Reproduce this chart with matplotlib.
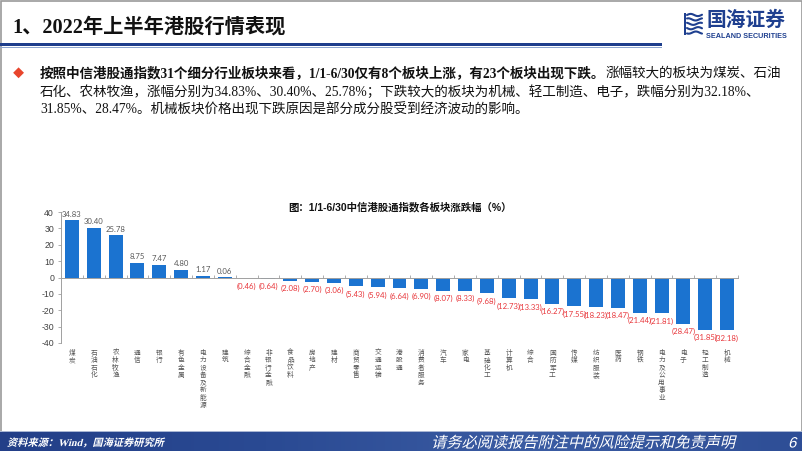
import matplotlib
matplotlib.use("Agg")
import matplotlib.pyplot as plt
import numpy as np
from matplotlib.textpath import TextPath
from matplotlib.patches import PathPatch, Rectangle
from matplotlib.font_manager import FontProperties
from matplotlib.transforms import Affine2D

# ---------------- data ----------------
categories = ["煤炭", "石油石化", "农林牧渔", "通信", "银行", "有色金属", "电力设备及新能源",
              "建筑", "综合金融", "非银行金融", "食品饮料", "房地产", "建材", "商贸零售",
              "交通运输", "港股通", "消费者服务", "汽车", "家电", "基础化工", "计算机",
              "综合", "国防军工", "传媒", "纺织服装", "医药", "钢铁", "电力及公用事业",
              "电子", "轻工制造", "机械"]
values = [34.83, 30.40, 25.78, 8.75, 7.47, 4.80, 1.17, 0.06, -0.46, -0.64, -2.08,
          -2.70, -3.06, -5.43, -5.94, -6.64, -6.90, -8.07, -8.33, -9.68, -12.73,
          -13.33, -16.27, -17.55, -18.23, -18.47, -21.44, -21.81, -28.47, -31.85, -32.18]
y_ticks = [40, 30, 20, 10, 0, -10, -20, -30, -40]

header_title = "1、2022年上半年港股行情表现"
chart_title = "图：1/1-6/30中信港股通指数各板块涨跌幅（%）"
para_bold = "按照中信港股通指数31个细分行业板块来看，1/1-6/30仅有8个板块上涨，有23个板块出现下跌。"
para_line1_rest = "涨幅较大的板块为煤炭、石油"
para_line2 = "石化、农林牧渔，涨幅分别为34.83%、30.40%、25.78%；下跌较大的板块为机械、轻工制造、电子，跌幅分别为32.18%、"
para_line3 = "31.85%、28.47%。机械板块价格出现下跌原因是部分成分股受到经济波动的影响。"
source_text = "资料来源：Wind，国海证券研究所"
disclaimer = "请务必阅读报告附注中的风险提示和免责声明"
page_no = "6"

W, H = 802, 451
SERIF = ["Liberation Serif", "Noto Sans CJK SC"]
SANS = ["Liberation Sans", "Noto Sans CJK SC"]
CJK = ["Noto Sans CJK SC", "DejaVu Sans"]

fig = plt.figure(figsize=(W / 100, H / 100), dpi=100)
fig.patch.set_facecolor("white")

bg = fig.add_axes([0, 0, 1, 1])
bg.set_xlim(0, W)
bg.set_ylim(0, H)
bg.axis("off")

def py(y):
    return H - y

# frame
bg.add_patch(Rectangle((0.5, 0.5), W - 1, H - 1, fill=False, ec="#9a9a9a", lw=1.2))
# header rule
bg.add_patch(Rectangle((0, py(46)), 662, 3, color="#1E3E8C", lw=0))
bg.add_patch(Rectangle((0, py(48)), 662, 1, color="#8FA6CF", lw=0))

# header title
bg.text(12, py(28), header_title, fontsize=14.6, fontweight="bold", family=SERIF,
        va="center", ha="left", color="#111111")

# logo
logo_c = "#1E3F8F"
for k in range(5):
    xs = np.linspace(687, 702, 20)
    bg.plot(xs, py(15 + k * 4.4) + 1.1 * np.sin((xs - 687) / 2.3 + k), color=logo_c, lw=1.5,
            solid_capstyle="round")
bg.add_patch(Rectangle((684, py(35)), 2.2, 22, color=logo_c, lw=0))
bg.text(706, py(20), "国海证券", fontsize=14.2, fontweight="bold", family=CJK,
        va="center", ha="left", color=logo_c)
bg.text(706, py(36), "SEALAND SECURITIES", fontsize=5.2, fontweight="bold",
        family=["Liberation Sans"], va="center", ha="left", color=logo_c)

# paragraph
FS = 9.75
bg.text(18, py(73), "◆", fontsize=8, family=CJK, color="#E8452C", va="center", ha="center")
renderer = fig.canvas.get_renderer()
t1 = bg.text(40, py(73), para_bold, fontsize=FS, fontweight="bold", family=SERIF,
             va="center", ha="left", color="#111111")
ext = t1.get_window_extent(renderer=renderer)
bg.text(ext.x1, py(73), para_line1_rest, fontsize=FS, family=SERIF,
        va="center", ha="left", color="#111111")
bg.text(40, py(92), para_line2, fontsize=FS, family=SERIF, va="center", ha="left", color="#111111")
bg.text(40, py(110), para_line3, fontsize=FS, family=SERIF, va="center", ha="left", color="#111111")

# chart title
bg.text(400, py(207), chart_title, fontsize=7.5, fontweight="bold", family=SANS,
        va="center", ha="center", color="#111111")

# footer bar with gradient
grad = np.linspace(0, 1, 256)
cmap = matplotlib.colors.LinearSegmentedColormap.from_list(
    "ft", ["#233F88", "#2A4A93", "#3B5CA3", "#2E4E96"])
bg.imshow(grad[None, :], extent=(0, W, 0, py(432)), aspect="auto", cmap=cmap, zorder=1)
bg.add_patch(Rectangle((0, py(432)), W, 1.2, color="#A9B6D3", lw=0, zorder=2))
bg.set_xlim(0, W)
bg.set_ylim(0, H)

def skew_text(s, x, y, size, family, weight="bold", color="white"):
    fp = FontProperties(family=family, weight=weight)
    tp = TextPath((0, 0), s, size=size, prop=fp)
    tr = Affine2D().skew_deg(14, 0).translate(x, y) + bg.transData
    bg.add_patch(PathPatch(tp, transform=tr, color=color, lw=0, zorder=3))

skew_text(source_text, 7, py(446), 10.2, ["Liberation Serif", "Noto Sans CJK SC"])
skew_text(disclaimer, 431, py(447.5), 15.2, ["Noto Sans CJK SC"], weight="medium")
skew_text(page_no, 788, py(447.5), 15, ["Liberation Sans"], weight="normal")

# ---------------- chart ----------------
ax = fig.add_axes([61 / W, 1 - 343 / H, (738 - 61) / W, (343 - 212) / H])
ax.patch.set_alpha(0)
x = np.arange(len(categories))
ax.bar(x, values, width=0.64, color="#1B73D0", zorder=2)
ax.set_xlim(-0.5, len(categories) - 0.5)
ax.set_ylim(-40, 40)
ax.set_yticks(y_ticks)
ax.set_yticklabels([str(v) for v in y_ticks], fontsize=6.3, color="#404040",
                   family=["Liberation Sans"])
ax.tick_params(axis="y", length=2, width=0.6, color="#A0A0A0", pad=3)
for s in ["top", "right"]:
    ax.spines[s].set_visible(False)
ax.spines["left"].set_color("#A0A0A0")
ax.spines["left"].set_linewidth(0.7)
ax.spines["bottom"].set_position(("data", 0))
ax.spines["bottom"].set_color("#A0A0A0")
ax.spines["bottom"].set_linewidth(0.7)
ax.set_xticks(np.arange(-0.5, len(categories), 1.0))
ax.set_xticklabels([])
ax.tick_params(axis="x", direction="in", length=2, width=0.6, color="#A0A0A0")

for i, v in enumerate(values):
    if v >= 0:
        ax.annotate(f"{v:.2f}", xy=(i, v), xytext=(0, 2), textcoords="offset points",
                    ha="center", va="bottom", fontsize=5.6, color="#595959",
                    family=["Lato"], annotation_clip=False)
    else:
        ax.annotate(f"({abs(v):.2f})", xy=(i, v), xytext=(0, -3), textcoords="offset points",
                    ha="center", va="top", fontsize=5.6, color="#E8363B",
                    family=["Lato"], annotation_clip=False)

for i, name in enumerate(categories):
    ax.annotate("\n".join(name), xy=(i, 0), xycoords=("data", "axes fraction"),
                xytext=(0, -4), textcoords="offset points", ha="center", va="top",
                fontsize=4.8, color="#555555", family=CJK, linespacing=0.92,
                annotation_clip=False)

fig.savefig("out.png", dpi=100)
